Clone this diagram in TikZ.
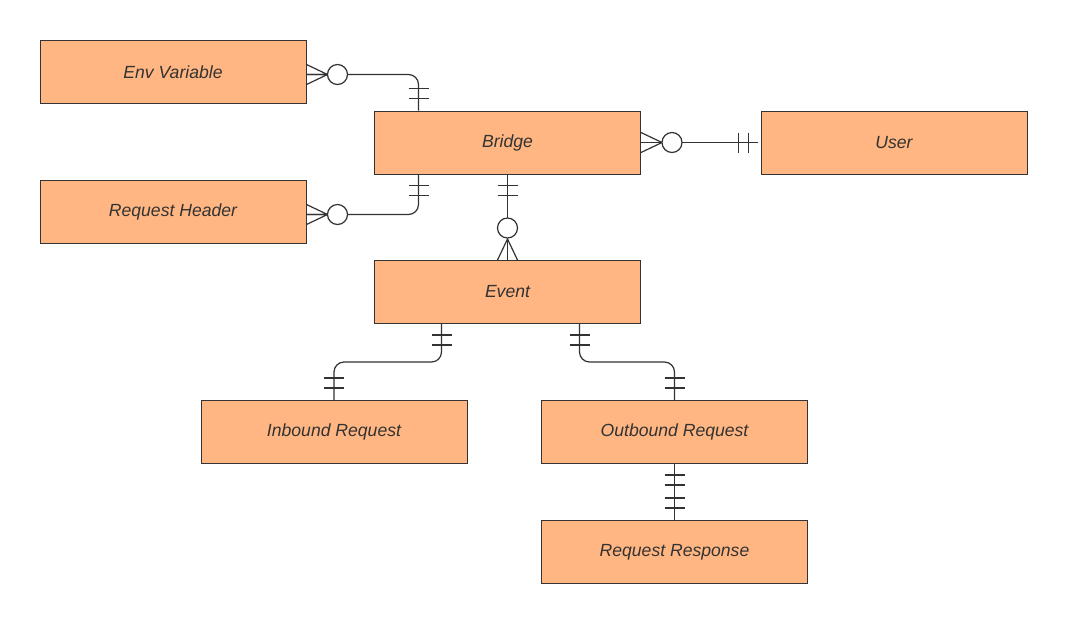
\documentclass[tikz,border=0pt]{standalone}
\usepackage{fontspec}
\setmainfont{Liberation Sans}
\usetikzlibrary{calc}
\definecolor{boxfill}{HTML}{FFB682}
\definecolor{ink}{HTML}{333333}
\begin{document}
\begin{tikzpicture}[x=1pt,y=-1pt,
  entity/.style={draw=ink, fill=boxfill, line width=1pt, minimum width=266pt, minimum height=63pt, inner sep=0pt, font=\fontsize{17.6}{20}\selectfont\itshape, text=ink},
  conn/.style={draw=ink, line width=1.2pt},
  ring/.style={draw=ink, fill=white, line width=1.2pt}]
\useasboundingbox[fill=white] (0,0) rectangle (1068,625);
\node[entity] (env) at (173,72) {Env Variable};
\node[entity] (bridge) at (507.5,142.5) {Bridge};
\node[entity] (user) at (894,142.5) {User};
\node[entity] (header) at (173,212) {Request Header};
\node[entity] (event) at (507.5,292) {Event};
\node[entity] (inbound) at (334,432) {Inbound Request};
\node[entity] (outbound) at (674.5,432) {Outbound Request};
\node[entity] (response) at (674.5,552) {Request Response};

% Env Variable -- Bridge
\coordinate (e1) at ($(env.east)+(0,2.5)$);
\coordinate (b1) at ($(bridge.north)+(-89,0)$);
\draw[conn,rounded corners=10pt] (e1) -- (e1 -| b1) -- (b1);
\draw[conn] ($(e1)+(0,-10)$) -- ($(e1)+(21,0)$) -- ($(e1)+(0,10)$) (e1) -- ($(e1)+(21,0)$);
\draw[ring] ($(e1)+(31,0)$) circle[radius=10];
\draw[conn] ($(b1)+(-10,-22)$) -- ++(20,0) ($(b1)+(-10,-12)$) -- ++(20,0);

% Request Header -- Bridge
\coordinate (h2) at ($(header.east)+(0,2.5)$);
\coordinate (b2) at ($(bridge.south)+(-89,0)$);
\draw[conn,rounded corners=10pt] (h2) -- (h2 -| b2) -- (b2);
\draw[conn] ($(h2)+(0,-10)$) -- ($(h2)+(21,0)$) -- ($(h2)+(0,10)$) (h2) -- ($(h2)+(21,0)$);
\draw[ring] ($(h2)+(31,0)$) circle[radius=10];
\draw[conn] ($(b2)+(-10,11)$) -- ++(20,0) ($(b2)+(-10,21)$) -- ++(20,0);

% Bridge -- Event
\draw[conn] (bridge.south) -- (event.north);
\draw[conn] ($(bridge.south)+(-10,11)$) -- ++(20,0) ($(bridge.south)+(-10,21)$) -- ++(20,0);
\draw[conn] ($(event.north)+(-10,0)$) -- ($(event.north)+(0,-21)$) -- ($(event.north)+(10,0)$);
\draw[ring] ($(event.north)+(0,-32)$) circle[radius=10];

% Bridge -- User
\draw[conn] (bridge.east) -- ($(user.west)+(-3,0)$);
\draw[conn] ($(bridge.east)+(0,-10)$) -- ($(bridge.east)+(21,0)$) -- ($(bridge.east)+(0,10)$);
\draw[ring] ($(bridge.east)+(31,0)$) circle[radius=10];
\draw[conn] ($(user.west)+(-22,-10)$) -- ++(0,20) ($(user.west)+(-12,-10)$) -- ++(0,20);

% Event -- Inbound Request
\coordinate (ev5) at ($(event.south)+(-66,0)$);
\draw[conn,rounded corners=10pt] (ev5) -- ++(0,38) -| (inbound.north);
\draw[conn] ($(ev5)+(-10,11)$) -- ++(20,0) ($(ev5)+(-10,21)$) -- ++(20,0);
\draw[conn] ($(inbound.north)+(-10,-22)$) -- ++(20,0) ($(inbound.north)+(-10,-12)$) -- ++(20,0);

% Event -- Outbound Request
\coordinate (ev6) at ($(event.south)+(72,0)$);
\draw[conn,rounded corners=10pt] (ev6) -- ++(0,38) -| (outbound.north);
\draw[conn] ($(ev6)+(-10,11)$) -- ++(20,0) ($(ev6)+(-10,21)$) -- ++(20,0);
\draw[conn] ($(outbound.north)+(-10,-22)$) -- ++(20,0) ($(outbound.north)+(-10,-12)$) -- ++(20,0);

% Outbound Request -- Request Response
\draw[conn] (outbound.south) -- (response.north);
\draw[conn] ($(outbound.south)+(-10,11)$) -- ++(20,0) ($(outbound.south)+(-10,21)$) -- ++(20,0);
\draw[conn] ($(response.north)+(-10,-22)$) -- ++(20,0) ($(response.north)+(-10,-12)$) -- ++(20,0);
\end{tikzpicture}
\end{document}
